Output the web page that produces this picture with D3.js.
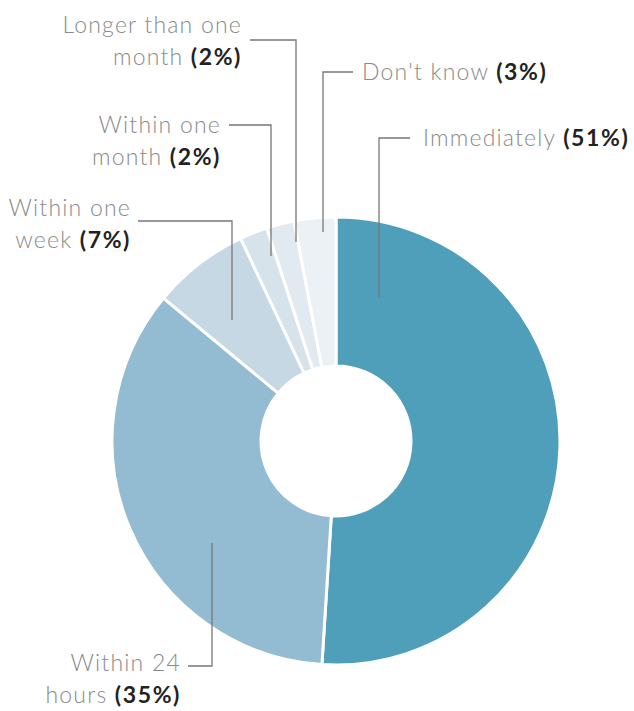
<!DOCTYPE html>
<html>
<head>
<meta charset="utf-8">
<script src="https://cdn.jsdelivr.net/npm/d3@7"></script>
<style>
  html, body { margin: 0; padding: 0; background: #fff; }
  svg { display: block; }
  text { font-family: Lato, "Open Sans", sans-serif; }
</style>
</head>
<body>
<svg id="chart" width="634" height="711"></svg>
<script>
// Survey answers, clockwise from 12 o'clock
const categories = ["Immediately", "Within 24 hours", "Within one week", "Within one month", "Longer than one month", "Don't know"];
const shares = [51, 35, 7, 2, 2, 3];
const colours = ["#4f9fbb", "#93bcd2", "#c5d8e4", "#d6e3eb", "#e1eaf0", "#ebf1f5"];

// Label lines (plain part, bold part) for each answer
const labelLines = [
  [["Immediately ", "(51%)"]],
  [["Within 24", ""], ["hours ", "(35%)"]],
  [["Within one", ""], ["week ", "(7%)"]],
  [["Within one", ""], ["month ", "(2%)"]],
  [["Longer than one", ""], ["month ", "(2%)"]],
  [["Don't know ", "(3%)"]]
];

const svg = d3.select("#chart");
const cx = 336, cy = 441, outerR = 224, innerR = 75;

const pie = d3.pie().sort(null).value(d => d)(shares);
const arc = d3.arc().innerRadius(innerR).outerRadius(outerR);

const g = svg.append("g").attr("transform", `translate(${cx},${cy})`);
g.selectAll("path")
  .data(pie)
  .join("path")
  .attr("d", arc)
  .attr("fill", (d, i) => colours[i])
  .attr("stroke", "#fff")
  .attr("stroke-width", 3)
  .attr("stroke-linejoin", "round");

// Leader layout: vertical drop x, bottom y, elbow y, elbow end x, text x, text anchor, first line y
const leaders = [
  { x: 379, y0: 297, y1: 138, hx: 410, tx: 423, anchor: "start", ty: 138 },
  { x: 212, y0: 543, y1: 666, hx: 188, tx: 181, anchor: "end", ty: 663 },
  { x: 232, y0: 320, y1: 221, hx: 138, tx: 131, anchor: "end", ty: 208 },
  { x: 271, y0: 256, y1: 125, hx: 229, tx: 221, anchor: "end", ty: 125 },
  { x: 296, y0: 242, y1: 40, hx: 250, tx: 242, anchor: "end", ty: 25 },
  { x: 323, y0: 232, y1: 72, hx: 353, tx: 362, anchor: "start", ty: 72 }
];

const lead = svg.append("g");
leaders.forEach((L, i) => {
  lead.append("path")
    .attr("d", `M${L.x},${L.y0}V${L.y1}H${L.hx}`)
    .attr("fill", "none")
    .attr("stroke", "#777")
    .attr("stroke-width", 1.3);
  labelLines[i].forEach((ln, j) => {
    const t = lead.append("text")
      .attr("x", L.tx)
      .attr("y", L.ty + j * 32)
      .attr("dy", "0.35em")
      .attr("text-anchor", L.anchor)
      .attr("font-size", 23)
      .attr("letter-spacing", 1.2);
    t.append("tspan").attr("fill", "#8a8a8a").attr("font-weight", 300).text(ln[0]);
    if (ln[1]) t.append("tspan").attr("fill", "#222").attr("font-weight", 700).attr("letter-spacing", 1.6).text(ln[1]);
  });
});
</script>
</body>
</html>
